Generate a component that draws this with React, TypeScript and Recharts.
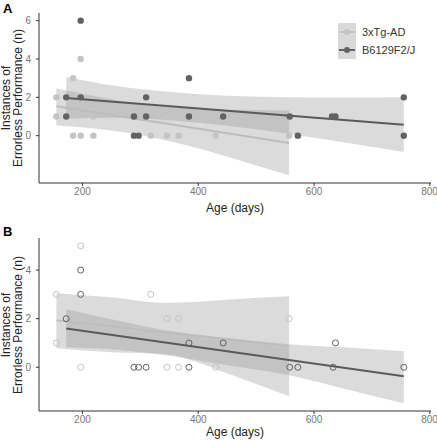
import React from "react";
import { ComposedChart, Area, Line, Scatter, XAxis, YAxis } from "recharts";

// Shared x axis (age in days)
const AGE_TICKS = [200, 400, 600, 800];
const AGE_DOMAIN = [125, 802];

// Panel A: filled points
const tgAgesA = [155, 155, 184, 184, 197, 197, 219, 219, 318, 346, 346, 366, 366, 430, 557];
const tgCountsA = [2, 1, 3, 0, 4, 0, 1, 0, 0, 1, 0, 1, 0, 0, 0];
const b6AgesA = [172, 172, 197, 197, 289, 289, 297, 310, 310, 384, 384, 443, 558, 572, 631, 637, 755, 755];
const b6CountsA = [2, 1, 6, 2, 1, 0, 0, 2, 1, 3, 1, 1, 1, 0, 1, 1, 2, 0];

// Panel A: fitted lines (start, end) and confidence bands [age, lower, upper]
const tgFitA = [[155, 1.53], [557, -0.38]];
const b6FitA = [[172, 1.97], [755, 0.57]];
const tgBandA = [[155, 0.53, 2.46], [220, 0.37, 2.07], [280, 0.14, 1.74], [343, -0.24, 1.52], [420, -0.83, 1.37], [490, -1.46, 1.34], [557, -2.07, 1.31]];
const b6BandA = [[172, 0.88, 3.06], [250, 0.93, 2.63], [343, 0.82, 2.3], [450, 0.52, 2.08], [557, 0.1, 2.0], [650, -0.35, 1.99], [755, -0.85, 2.0]];

// Panel B: open points
const tgAgesB = [155, 155, 184, 197, 197, 219, 318, 346, 346, 366, 366, 430, 557];
const tgCountsB = [3, 1, 2, 5, 0, 1, 3, 2, 0, 2, 0, 0, 2];
const b6AgesB = [172, 197, 197, 289, 297, 310, 384, 384, 443, 558, 572, 633, 637, 755];
const b6CountsB = [2, 4, 3, 0, 0, 0, 1, 0, 1, 0, 0, 0, 1, 0];

const tgFitB = [[155, 1.93], [557, 0.87]];
const b6FitB = [[172, 1.6], [755, -0.37]];
const tgBandB = [[155, 0.78, 3.05], [250, 0.62, 2.88], [343, 0.55, 2.65], [400, 0.2, 2.7], [450, -0.25, 2.78], [557, -1.19, 2.92]];
const b6BandB = [[172, 0.82, 2.39], [260, 0.72, 1.92], [343, 0.49, 1.52], [450, 0.08, 1.2], [557, -0.33, 0.95], [650, -0.87, 0.82], [755, -1.48, 0.66]];

const LIGHT = "#c4c4c4";
const DARK = "#626262";
const RIBBON = "#999999";
const FONT = "'Liberation Sans', Arial, sans-serif";

type Row = { age: number; tgBand?: number[]; b6Band?: number[]; tgFit?: number; b6Fit?: number };

// merge band samples and fit endpoints into one row per age
function buildRows(tgBand: number[][], b6Band: number[][], tgFit: number[][], b6Fit: number[][]): Row[] {
  const rows = new Map<number, Row>();
  const get = (age: number) => {
    if (!rows.has(age)) rows.set(age, { age });
    return rows.get(age)!;
  };
  tgBand.forEach(([a, lo, hi]) => (get(a).tgBand = [lo, hi]));
  b6Band.forEach(([a, lo, hi]) => (get(a).b6Band = [lo, hi]));
  tgFit.forEach(([a, v]) => (get(a).tgFit = v));
  b6Fit.forEach(([a, v]) => (get(a).b6Fit = v));
  return [...rows.values()].sort((p, q) => p.age - q.age);
}

const toPoints = (ages: number[], counts: number[]) => ages.map((age, i) => ({ age, n: counts[i] }));

const openCircle = (color: string) => (p: any) => (
  <circle cx={p.cx} cy={p.cy} r={3} fill="none" stroke={color} strokeWidth={1} />
);
const filledCircle = (color: string) => (p: any) => <circle cx={p.cx} cy={p.cy} r={3.2} fill={color} />;

interface PanelProps {
  top: number;
  height: number;
  yDomain: number[];
  yTicks: number[];
  rows: Row[];
  tgPoints: { age: number; n: number }[];
  b6Points: { age: number; n: number }[];
  open: boolean;
}

function Panel({ top, height, yDomain, yTicks, rows, tgPoints, b6Points, open }: PanelProps) {
  const axisLine = { stroke: "#333", strokeWidth: 1 };
  const tick = { fill: "#777", fontSize: 10, fontFamily: FONT };
  const shape = open ? openCircle : filledCircle;
  return (
    <div style={{ position: "absolute", left: 0, top }}>
      <ComposedChart width={437} height={height} data={rows} margin={{ top: 13, right: 6, bottom: 0, left: 0 }}>
        <XAxis
          dataKey="age"
          type="number"
          domain={AGE_DOMAIN}
          ticks={AGE_TICKS}
          allowDataOverflow
          height={17}
          tickSize={3}
          axisLine={axisLine}
          tickLine={axisLine}
          tick={tick}
        />
        <YAxis
          type="number"
          domain={yDomain}
          ticks={yTicks}
          allowDataOverflow
          width={39}
          tickSize={3}
          tickMargin={5}
          axisLine={axisLine}
          tickLine={axisLine}
          tick={tick}
        />
        <Scatter data={tgPoints} dataKey="n" shape={shape(LIGHT)} isAnimationActive={false} />
        <Scatter data={b6Points} dataKey="n" shape={shape(DARK)} isAnimationActive={false} />
        <Area dataKey="tgBand" type="monotone" stroke="none" fill={RIBBON} fillOpacity={0.35} connectNulls dot={false} activeDot={false} isAnimationActive={false} />
        <Area dataKey="b6Band" type="monotone" stroke="none" fill={RIBBON} fillOpacity={0.35} connectNulls dot={false} activeDot={false} isAnimationActive={false} />
        <Line dataKey="tgFit" type="linear" stroke="#bdbdbd" strokeWidth={2} connectNulls dot={false} activeDot={false} isAnimationActive={false} />
        <Line dataKey="b6Fit" type="linear" stroke="#5a5a5a" strokeWidth={2} connectNulls dot={false} activeDot={false} isAnimationActive={false} />
      </ComposedChart>
    </div>
  );
}

function YTitle({ centerY }: { centerY: number }) {
  return (
    <div
      style={{
        position: "absolute",
        left: 12,
        top: centerY,
        width: 200,
        marginLeft: -100,
        transform: "translateY(-50%) rotate(-90deg)",
        textAlign: "center",
        fontSize: 12,
        lineHeight: "12px",
        color: "#222",
        fontFamily: FONT,
      }}
    >
      Instances of
      <br />
      Errorless Performance (n)
    </div>
  );
}

function XTitle({ centerY }: { centerY: number }) {
  return (
    <div style={{ position: "absolute", left: 135, width: 200, top: centerY - 7, textAlign: "center", fontSize: 12, color: "#222", fontFamily: FONT }}>
      Age (days)
    </div>
  );
}

function LegendKey({ color, label, top }: { color: string; label: string; top: number }) {
  return (
    <div style={{ position: "absolute", left: 338, top, height: 18, display: "flex", alignItems: "center" }}>
      <svg width={18} height={18}>
        <rect x={0} y={0} width={18} height={18} fill="#d9d9d9" />
        <line x1={1} x2={17} y1={9} y2={9} stroke={color} strokeWidth={2} />
        <circle cx={9} cy={9} r={3} fill={color} />
      </svg>
      <span style={{ marginLeft: 6, fontSize: 11, color: "#333", fontFamily: FONT }}>{label}</span>
    </div>
  );
}

export default function App() {
  const rowsA = buildRows(tgBandA, b6BandA, tgFitA, b6FitA);
  const rowsB = buildRows(tgBandB, b6BandB, tgFitB, b6FitB);
  return (
    <div style={{ position: "absolute", left: 0, top: 0, width: 437, height: 440, background: "#fff", fontFamily: FONT }}>
      <Panel
        top={0}
        height={200}
        yDomain={[-2.47, 6.4]}
        yTicks={[0, 2, 4, 6]}
        rows={rowsA}
        tgPoints={toPoints(tgAgesA, tgCountsA)}
        b6Points={toPoints(b6AgesA, b6CountsA)}
        open={false}
      />
      <Panel
        top={225}
        height={203}
        yDomain={[-1.8, 5.32]}
        yTicks={[0, 2, 4]}
        rows={rowsB}
        tgPoints={toPoints(tgAgesB, tgCountsB)}
        b6Points={toPoints(b6AgesB, b6CountsB)}
        open={true}
      />
      <div style={{ position: "absolute", left: 3, top: 1, fontWeight: "bold", fontSize: 13 }}>A</div>
      <div style={{ position: "absolute", left: 3, top: 224, fontWeight: "bold", fontSize: 13 }}>B</div>
      <YTitle centerY={98} />
      <YTitle centerY={325} />
      <XTitle centerY={208} />
      <XTitle centerY={432} />
      <LegendKey color={LIGHT} label="3xTg-AD" top={23} />
      <LegendKey color={DARK} label="B6129F2/J" top={41} />
    </div>
  );
}
